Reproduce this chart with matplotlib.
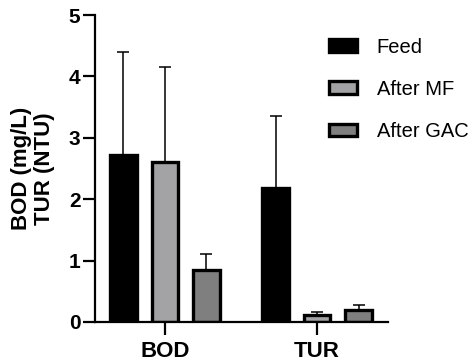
import matplotlib
matplotlib.use("Agg")
import matplotlib.pyplot as plt
import numpy as np

plt.rcParams['font.family'] = ['Liberation Sans', 'DejaVu Sans']

categories = ["BOD", "TUR"]
series = ["Feed", "After MF", "After GAC"]
feed = [2.72, 2.18]
feed_err = [1.68, 1.18]
after_mf = [2.60, 0.11]
after_mf_err = [1.56, 0.05]
after_gac = [0.84, 0.20]
after_gac_err = [0.27, 0.08]
colors = ["#000000", "#a3a3a6", "#7f7f7f"]

fig = plt.figure(figsize=(4.75, 3.62), dpi=100)
ax = fig.add_axes([0.2, 0.1105, 0.617, 0.848])

x = np.arange(len(categories))
width = 0.175
offset = 0.273
vals = [feed, after_mf, after_gac]
errs = [feed_err, after_mf_err, after_gac_err]
for i, (v, e, c, lab) in enumerate(zip(vals, errs, colors, series)):
    pos = x + (i - 1) * offset
    ax.bar(pos, v, width=width, color=c, edgecolor="black", linewidth=2.4,
           label=lab, zorder=2)
    ax.errorbar(pos, v, yerr=[np.zeros(len(e)), e], fmt="none", ecolor="black",
                elinewidth=1.1, capsize=4.5, capthick=1.1, zorder=1)

ax.set_xlim(-0.46, 1.467)
ax.set_ylim(0, 5)
ax.set_yticks([0, 1, 2, 3, 4, 5])
ax.set_xticks(x)
ax.set_xticklabels(categories)
for s in ["top", "right"]:
    ax.spines[s].set_visible(False)
for s in ["left", "bottom"]:
    ax.spines[s].set_linewidth(1.6)
ax.tick_params(axis="both", width=1.6, length=9)
ax.tick_params(axis="y", labelsize=15, pad=1.5)
ax.tick_params(axis="x", labelsize=16, pad=5)
for lbl in ax.get_xticklabels() + ax.get_yticklabels():
    lbl.set_fontweight("bold")
ax.set_ylabel("BOD (mg/L)\nTUR (NTU)", fontsize=16, fontweight="bold",
              linespacing=1.1, labelpad=10)

leg = ax.legend(loc="upper left", bbox_to_anchor=(0.735, 0.985), frameon=False,
                fontsize=14.5, handlelength=1.4, handleheight=0.6,
                labelspacing=1.15, handletextpad=1.0)

fig.savefig("out.png", dpi=100)
